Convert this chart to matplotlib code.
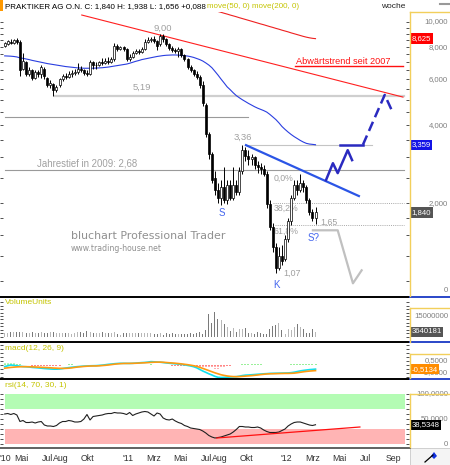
import numpy as np
import pandas as pd
import matplotlib
matplotlib.use('Agg')
import matplotlib.pyplot as plt
import matplotlib.dates as mdates
from matplotlib.lines import Line2D
from matplotlib.patches import Rectangle, Polygon
from matplotlib.ticker import NullLocator
from matplotlib.transforms import blended_transform_factory as blend

plt.rcParams['font.family'] = ['Liberation Sans', 'DejaVu Sans']

# ---------------- data (weekly) ----------------
first_week = '2010-03-24'
open_ = [8.08, 8.25, 8.40, 8.30, 8.50, 8.40, 6.60, 7.00, 6.30, 6.50,
         6.10, 6.40, 6.30, 6.60, 6.10, 5.70, 5.75, 5.45, 5.70, 6.00,
         6.20, 6.15, 6.30, 6.35, 6.40, 6.60, 6.50, 6.35, 6.30, 7.00,
         6.80, 6.85, 7.00, 6.95, 7.10, 7.00, 7.20, 8.10, 7.90, 8.00,
         7.85, 7.20, 7.35, 7.60, 7.70, 7.65, 7.85, 8.40, 8.50, 8.60,
         8.45, 8.20, 8.80, 8.60, 8.20, 7.95, 7.80, 7.70, 7.85, 7.45,
         7.20, 6.70, 6.50, 6.30, 6.15, 5.70, 4.80, 3.70, 3.10, 2.50,
         2.25, 2.10, 2.30, 2.05, 2.35, 2.10, 2.35, 2.20, 2.65, 3.20,
         3.05, 2.95, 3.00, 2.80, 2.75, 2.70, 2.60, 1.98, 1.62, 1.35,
         1.12, 1.25, 1.22, 1.45, 1.70, 2.10, 2.35, 2.25, 2.40, 2.30,
         2.05, 1.85, 1.752]
high = [8.40, 8.55, 8.60, 8.62, 8.65, 8.55, 7.60, 7.05, 6.70, 6.60,
        6.50, 6.55, 6.80, 6.70, 6.15, 5.95, 5.80, 5.70, 6.10, 6.30,
        6.35, 6.45, 6.50, 6.60, 6.95, 6.75, 6.60, 6.50, 7.15, 7.05,
        7.00, 7.10, 7.25, 7.25, 7.30, 7.35, 8.30, 8.20, 8.10, 8.10,
        7.95, 7.50, 7.70, 7.90, 7.85, 8.00, 8.60, 8.75, 8.75, 8.80,
        8.55, 9.00, 8.95, 8.70, 8.30, 8.05, 7.95, 8.00, 7.95, 7.50,
        7.25, 6.85, 6.60, 6.45, 6.25, 5.90, 4.85, 3.75, 3.15, 2.65,
        2.40, 2.45, 2.75, 2.45, 2.45, 2.75, 2.45, 2.75, 3.36, 3.30,
        3.20, 3.10, 3.05, 2.90, 2.85, 2.80, 2.65, 2.05, 1.68, 1.40,
        1.35, 1.38, 1.50, 1.75, 2.15, 2.45, 2.45, 2.58, 2.45, 2.35,
        2.10, 1.90, 1.938]
low = [8.00, 8.15, 8.20, 8.22, 8.25, 6.20, 6.55, 6.20, 6.20, 5.95,
       6.00, 6.15, 6.10, 6.00, 5.60, 5.55, 5.19, 5.35, 5.60, 5.90,
       6.05, 6.10, 6.15, 6.25, 6.30, 6.40, 6.25, 6.20, 6.25, 6.60,
       6.60, 6.75, 6.85, 6.90, 6.90, 6.95, 7.10, 7.75, 7.80, 7.70,
       7.05, 7.10, 7.25, 7.55, 7.55, 7.60, 7.80, 8.30, 8.40, 8.30,
       7.80, 8.10, 8.40, 8.05, 7.80, 7.65, 7.60, 7.30, 7.35, 7.05,
       6.60, 6.40, 6.20, 6.05, 5.55, 4.75, 3.60, 2.95, 2.40, 2.15,
       2.00, 1.97, 2.00, 1.99, 2.05, 2.05, 2.15, 2.15, 2.60, 2.90,
       2.80, 2.80, 2.70, 2.62, 2.60, 2.55, 1.92, 1.58, 1.30, 1.07,
       1.10, 1.15, 1.20, 1.42, 1.65, 2.05, 2.15, 2.20, 2.20, 2.00,
       1.80, 1.70, 1.656]
close_ = [8.30, 8.45, 8.30, 8.50, 8.40, 6.50, 7.10, 6.30, 6.50, 6.10,
          6.40, 6.30, 6.70, 6.20, 5.70, 5.80, 5.45, 5.60, 6.00, 6.20,
          6.15, 6.30, 6.35, 6.40, 6.60, 6.50, 6.35, 6.30, 7.00, 6.80,
          6.85, 7.00, 6.95, 7.10, 7.00, 7.20, 8.10, 7.90, 8.00, 7.85,
          7.20, 7.35, 7.60, 7.70, 7.65, 7.85, 8.40, 8.50, 8.60, 8.45,
          8.10, 8.80, 8.60, 8.20, 7.95, 7.80, 7.70, 7.85, 7.45, 7.20,
          6.70, 6.50, 6.30, 6.15, 5.70, 4.85, 3.70, 3.10, 2.45, 2.25,
          2.10, 2.30, 2.05, 2.35, 2.10, 2.35, 2.20, 2.65, 3.20, 3.05,
          2.95, 3.00, 2.80, 2.75, 2.70, 2.60, 1.98, 1.62, 1.35, 1.12,
          1.25, 1.20, 1.45, 1.70, 2.10, 2.35, 2.25, 2.40, 2.30, 2.05,
          1.85, 1.752, 1.840]
ma50 = [7.40, 7.39, 7.38, 7.36, 7.33, 7.27, 7.24, 7.20, 7.16, 7.11,
        7.07, 7.03, 6.99, 6.95, 6.91, 6.88, 6.85, 6.82, 6.79, 6.76,
        6.73, 6.71, 6.69, 6.67, 6.65, 6.64, 6.63, 6.63, 6.63, 6.63,
        6.64, 6.65, 6.66, 6.68, 6.70, 6.73, 6.76, 6.79, 6.82, 6.85,
        6.88, 6.93, 6.99, 7.05, 7.10, 7.16, 7.20, 7.24, 7.28, 7.32,
        7.36, 7.39, 7.42, 7.44, 7.45, 7.46, 7.46, 7.45, 7.43, 7.41,
        7.39, 7.35, 7.30, 7.23, 7.16, 7.07, 6.95, 6.82, 6.66, 6.45,
        6.24, 6.02, 5.82, 5.62, 5.48, 5.33, 5.20, 5.10, 5.01, 4.93,
        4.85, 4.78, 4.71, 4.65, 4.60, 4.55, 4.49, 4.40, 4.30, 4.20,
        4.08, 3.95, 3.85, 3.76, 3.68, 3.61, 3.55, 3.49, 3.44, 3.40,
        3.38, 3.37, 3.359]
ma200_first_week = 70
ma200 = [10.98, 10.90, 10.81, 10.73, 10.64, 10.56, 10.48, 10.39, 10.31, 10.23,
         10.15, 10.07, 9.99, 9.91, 9.83, 9.76, 9.68, 9.60, 9.53, 9.45,
         9.38, 9.30, 9.23, 9.16, 9.08, 9.01, 8.94, 8.87, 8.80, 8.74,
         8.69, 8.65, 8.625]
volume_mio = [3.0, 3.2, 3.4, 3.6, 3.3, 3.8, 3.5, 3.2, 3.0, 3.3,
              2.8, 3.1, 3.4, 3.2, 2.9, 3.6, 3.4, 3.1, 2.7, 2.5,
              2.9, 3.2, 2.4, 2.8, 3.9, 3.3, 3.1, 4.2, 3.6, 3.2,
              3.0, 2.8, 3.5, 3.1, 2.9, 2.7, 3.3, 2.0, 1.5, 2.6,
              2.8, 3.0, 2.9, 3.2, 2.7, 2.6, 2.9, 2.5, 2.6, 2.1,
              2.1, 2.9, 1.4, 2.9, 2.1, 2.5, 2.1, 2.1, 2.1, 2.1,
              2.1, 2.5, 1.8, 2.9, 3.6, 2.1, 5.0, 16.4, 10.0, 17.9,
              12.9, 12.1, 9.3, 7.1, 4.3, 6.4, 3.6, 5.7, 5.7, 6.4,
              2.9, 2.9, 2.1, 3.6, 2.5, 2.1, 2.1, 5.7, 7.9, 8.6,
              10.0, 5.0, 2.1, 5.7, 5.0, 7.1, 9.3, 7.1, 5.7, 2.9,
              2.9, 5.7, 3.64]
macd = [-0.20, -0.10, 0.00, -0.05, -0.10, -0.15, -0.20, -0.22, -0.25, -0.30,
        -0.33, -0.36, -0.40, -0.44, -0.47, -0.50, -0.52, -0.52, -0.50, -0.45,
        -0.38, -0.33, -0.28, -0.24, -0.20, -0.17, -0.14, -0.12, -0.10, -0.09,
        -0.08, -0.05, -0.02, 0.03, 0.08, 0.12, 0.16, 0.19, 0.21, 0.21,
        0.20, 0.20, 0.21, 0.24, 0.27, 0.30, 0.32, 0.36, 0.42, 0.40,
        0.37, 0.35, 0.31, 0.26, 0.22, 0.18, 0.15, 0.11, 0.07, 0.02,
        -0.05, -0.12, -0.21, -0.35, -0.55, -0.75, -0.92, -1.10, -1.25, -1.42,
        -1.54, -1.56, -1.55, -1.53, -1.50, -1.48, -1.46, -1.40, -1.32, -1.27,
        -1.25, -1.22, -1.19, -1.16, -1.13, -1.10, -1.08, -1.05, -1.04, -1.03,
        -1.02, -1.01, -1.00, -0.99, -0.96, -0.90, -0.82, -0.74, -0.68, -0.63,
        -0.58, -0.55, -0.5134]
signal = [-0.40, -0.35, -0.30, -0.27, -0.24, -0.22, -0.21, -0.21, -0.22, -0.23,
          -0.25, -0.27, -0.29, -0.31, -0.33, -0.35, -0.38, -0.40, -0.42, -0.42,
          -0.42, -0.40, -0.36, -0.30, -0.25, -0.21, -0.18, -0.15, -0.13, -0.12,
          -0.12, -0.10, -0.07, -0.04, 0.00, 0.05, 0.10, 0.14, 0.17, 0.19,
          0.20, 0.20, 0.21, 0.22, 0.24, 0.26, 0.28, 0.30, 0.33, 0.35,
          0.36, 0.36, 0.34, 0.31, 0.28, 0.25, 0.22, 0.18, 0.14, 0.09,
          0.04, -0.02, -0.09, -0.17, -0.29, -0.42, -0.56, -0.70, -0.84, -0.98,
          -1.10, -1.22, -1.30, -1.37, -1.42, -1.45, -1.46, -1.45, -1.42, -1.39,
          -1.36, -1.33, -1.29, -1.25, -1.20, -1.16, -1.12, -1.10, -1.09, -1.08,
          -1.07, -1.06, -1.05, -1.05, -1.04, -1.02, -0.97, -0.91, -0.85, -0.80,
          -0.76, -0.73, -0.70]
rsi = [60, 61, 59, 61, 58, 45, 47, 43, 43, 44,
       42, 44, 45, 38, 36, 36, 35, 37, 42, 45,
       45, 47, 46, 44, 44, 45, 50, 59, 48, 55,
       56, 57, 58, 60, 61, 61, 63, 62, 62, 61,
       59, 63, 57, 60, 62, 64, 65, 64, 60, 56,
       62, 60, 52, 49, 48, 50, 46, 43, 41, 37,
       35, 32, 31, 30, 29, 26, 22, 17, 14, 12,
       13, 14, 16, 18, 20, 24, 29, 35, 35, 34,
       34, 33, 33, 34, 32, 28, 25, 23, 23, 23,
       24, 27, 30, 36, 40, 43, 44, 44, 42, 40,
       38, 37, 38.5348]

# drawn annotations (dates, prices)
trend_red = (['2010-09-17', '2012-09-24'], [10.64, 5.13])
downtrend_mark = (['2012-01-20', '2012-09-24'], [6.76, 6.76])
level_519 = (['2010-07-17', '2012-09-26'], [5.19, 5.19])
level_430 = (['2010-03-24', '2011-10-04'], [4.30, 4.30])
level_268 = (['2010-03-24', '2012-09-26'], [2.68, 2.68])
level_336 = (['2011-09-27', '2012-07-15'], [3.36, 3.36])
fib_382 = (['2011-11-30', '2012-09-26'], [2.003, 2.003])
fib_618 = (['2011-12-05', '2012-09-26'], [1.647, 1.647])
blue_trend = (['2011-09-27', '2012-06-17'], [3.36, 2.12])
bull_zigzag = (['2012-03-31', '2012-04-16', '2012-04-27', '2012-05-20', '2012-05-30'],
               [2.45, 2.85, 2.61, 3.20, 2.93])
bull_flat = (['2012-05-02', '2012-06-24'], [3.36, 3.36])
bull_dash = (['2012-06-24', '2012-08-13', '2012-08-29'], [3.36, 5.23, 4.57])
bear_path = (['2012-03-01', '2012-04-27', '2012-06-01', '2012-06-21'], [1.57, 1.57, 0.98, 1.10])
rsi_trend = (['2011-07-24', '2012-06-17'], [12, 34])

month_ticks = ['2010-03-13', '2010-05-01', '2010-07-01', '2010-08-01', '2010-10-01',
               '2011-01-01', '2011-03-01', '2011-05-01', '2011-07-01', '2011-08-01',
               '2011-10-01', '2012-01-01', '2012-03-01', '2012-05-01', '2012-07-01',
               '2012-09-01']
month_labels = ["'10", 'Mai', 'Jul', 'Aug', 'Okt', "'11", 'Mrz', 'Mai', 'Jul', 'Aug',
                'Okt', "'12", 'Mrz', 'Mai', 'Jul', 'Sep']

# ---------------- figure ----------------
W, H = 450, 465
fig = plt.figure(figsize=(4.5, 4.65), dpi=100)
fig.patch.set_facecolor('white')


def fx(px):
    return px / W


def fy(py):
    return 1 - py / H


def dn(lst):
    return mdates.date2num(pd.to_datetime(lst))


x_left = pd.Timestamp('2010-03-13 05:00')
x_right = pd.Timestamp('2012-10-07 19:00')


def panel(top, bottom):
    ax = fig.add_axes([0, fy(bottom), fx(409), (bottom - top) / H])
    for s in ax.spines.values():
        s.set_visible(False)
    ax.set_facecolor('none')
    ax.tick_params(axis='x', bottom=False, labelbottom=False)
    ax.tick_params(axis='y', which='both', direction='in', left=True, right=True,
                   length=2.5, width=0.6, labelleft=False, labelright=False,
                   color='#333333')
    ax.set_xlim(mdates.date2num(x_left), mdates.date2num(x_right))
    return ax


dates = pd.date_range(first_week, periods=len(close_), freq='7D')
x = mdates.date2num(dates)
o = np.array(open_)
c = np.array(close_)
h = np.array(high)
lo = np.array(low)
up = c >= o

GRAY_TXT = '#a0a0a0'
AX_TXT = '#808080'
OLIVE = '#c4c400'
FS_AX = 5.6

# ---------- price panel ----------
ax_p = panel(12, 296)
ax_p.set_yscale('log')
ax_p.set_ylim(0.8755, 10.93)
ax_p.yaxis.set_major_locator(matplotlib.ticker.FixedLocator(
    [1, 1.25, 1.5, 1.75, 2, 2.5, 3, 3.5, 4, 4.5, 5, 5.5, 6, 6.5, 7, 7.5, 8, 8.5, 9, 9.5, 10]))
ax_p.yaxis.set_minor_locator(NullLocator())
ax_p.set_xlim(mdates.date2num(x_left), mdates.date2num(x_right))


def pline(ax, item, **kw):
    ax.plot(dn(item[0]), item[1], **kw)


pline(ax_p, level_430, color='#9a9a9a', lw=0.8, zorder=1)
pline(ax_p, level_268, color='#9a9a9a', lw=0.8, zorder=1)
pline(ax_p, level_519, color='#cfcfcf', lw=1.6, zorder=1)
pline(ax_p, level_336, color='#c4c4c4', lw=0.8, zorder=1)
pline(ax_p, fib_382, color='#a8a8a8', lw=0.7, ls=(0, (1, 1.2)), zorder=1)
pline(ax_p, fib_618, color='#a8a8a8', lw=0.7, ls=(0, (1, 1.2)), zorder=1)

ax_p.plot(x, ma50, color='#2a3ee0', lw=0.8, zorder=2)
ax_p.plot(x[ma200_first_week:ma200_first_week + len(ma200)], ma200, color='#ee2020', lw=0.8, zorder=2)
pline(ax_p, trend_red, color='#ff2020', lw=0.8, zorder=2)
pline(ax_p, downtrend_mark, color='#ff1010', lw=1.0, zorder=2)

# candles
ax_p.vlines(x, lo, h, color='black', lw=0.7, zorder=3)
ax_p.bar(x, np.maximum(np.abs(c - o), 0.005), bottom=np.minimum(o, c), width=4.6,
         color=np.where(up, 'white', 'black'), edgecolor='black', linewidth=0.5, zorder=4)

pline(ax_p, blue_trend, color='#2b55e6', lw=1.6, zorder=5, solid_capstyle='butt')
pline(ax_p, bull_zigzag, color='#2a2ac0', lw=1.8, zorder=5)
pline(ax_p, bull_flat, color='#2a2ac0', lw=1.8, zorder=5)
pline(ax_p, bull_dash, color='#2a2ac0', lw=1.8, ls=(0, (4, 2)), zorder=5)
pline(ax_p, bear_path, color='#c0c0c0', lw=1.6, zorder=5)

ft = fig.transFigure


def ptext(px, py, s, **kw):
    kw.setdefault('va', 'center')
    ax_p.text(fx(px), fy(py), s, transform=ft, zorder=1, **kw)


ptext(163, 28, '9,00', color=GRAY_TXT, fontsize=6.8, ha='center')
ptext(142, 87, '5,19', color=GRAY_TXT, fontsize=6.8, ha='center')
ptext(243, 137, '3,36', color=GRAY_TXT, fontsize=6.8, ha='center')
ptext(37, 164, 'Jahrestief in 2009: 2,68', color=GRAY_TXT, fontsize=6.9, ha='left')
ptext(274, 178, '0,0%', color=GRAY_TXT, fontsize=6.3, ha='left')
ptext(274, 208, '38,2%', color=GRAY_TXT, fontsize=6.3, ha='left')
ptext(274, 231, '61,8%', color=GRAY_TXT, fontsize=6.3, ha='left')
ptext(320, 222, '1,65', color=GRAY_TXT, fontsize=6.3, ha='left')
ptext(283, 273, '1,07', color=GRAY_TXT, fontsize=6.5, ha='left')
ptext(222, 213, 'S', color='#4466ee', fontsize=7, ha='center')
ptext(277, 285, 'K', color='#4466ee', fontsize=7, ha='center')
ptext(314, 238, 'S?', color='#4466ee', fontsize=7, ha='center')
ptext(296, 61, 'Abwärtstrend seit 2007', color='#ff1010', fontsize=6.6, ha='left')
ptext(71, 236, 'bluchart Professional Trader', color='#909090', fontsize=7.9, ha='left',
      family='DejaVu Sans')
ptext(71, 248, 'www.trading-house.net', color='#909090', fontsize=5.6, ha='left',
      family='DejaVu Sans')


def right_label(ax, val, s):
    ax.text(fx(448), val, s, transform=blend(ft, ax.transData), ha='right', va='center',
            color=AX_TXT, fontsize=FS_AX, zorder=6, clip_on=False)


def right_box(ax, val, s, fc):
    ax.text(fx(411.5), val, s, transform=blend(ft, ax.transData), ha='left', va='center',
            color='white', fontsize=FS_AX, zorder=7, clip_on=False,
            bbox=dict(boxstyle='square,pad=0.22', fc=fc, ec='none'))


for v, s in [(10, '10,000'), (8, '8,000'), (6, '6,000'), (4, '4,000'), (2, '2,000'), (0.923, '0')]:
    right_label(ax_p, v, s)
right_box(ax_p, ma200[-1], '8,625', '#ff0000')
right_box(ax_p, ma50[-1], '3,359', '#1414e6')
right_box(ax_p, close_[-1], '1,840', '#555555')

# ---------- volume panel ----------
ax_v = panel(298, 341)
ax_v.set_ylim(-2.86, 27.86)
ax_v.set_yticks(np.arange(0, 27, 2.5))
ax_v.bar(x, volume_mio, width=2.3, color=np.where(up, '#b8b8b8', '#7a7a7a'), zorder=3)
right_label(ax_v, 15, '15000000')
right_box(ax_v, volume_mio[-1], '3640181', '#555555')

# ---------- MACD panel ----------
ax_m = panel(344, 378)
ax_m.set_ylim(-1.625, 2.625)
ax_m.set_yticks(np.arange(-1.5, 2.6, 0.5))
hist = np.array(macd) - np.array(signal)
ax_m.vlines(x, 0, hist, colors=np.where(hist >= 0, '#88ee88', '#ff7070'), lw=1.2,
            linestyles=(0, (1, 1)), zorder=2)
ax_m.plot(x, macd, color='#10e0f0', lw=1.2, zorder=3)
ax_m.plot(x, signal, color='#ff9a10', lw=1.2, zorder=4)
right_label(ax_m, 0.5, '0,5000')
right_label(ax_m, -1.0, '-1,0000')
right_box(ax_m, macd[-1], '-0,5134', '#ff8c00')

# ---------- RSI panel ----------
ax_r = panel(380, 446)
ax_r.set_ylim(-4, 128)
ax_r.set_yticks(np.arange(0, 101, 10))
ax_r.axhspan(70, 100, xmin=5 / 409, xmax=405 / 409, color='#b4fcb4', lw=0, zorder=0)
ax_r.axhspan(0, 30, xmin=5 / 409, xmax=405 / 409, color='#ffb4b4', lw=0, zorder=0)
ax_r.plot(x, rsi, color='#202020', lw=0.8, zorder=3)
pline(ax_r, rsi_trend, color='#ff1010', lw=0.9, zorder=4)
right_label(ax_r, 100, '100,0000')
right_label(ax_r, 50, '50,0000')
right_label(ax_r, 0, '0')
right_box(ax_r, rsi[-1], '38,5348', '#000000')

# date labels (first one sits at the left edge)
for k, (d, s) in enumerate(zip(dn(month_ticks), month_labels)):
    ax_r.text(d, fy(458), s, transform=blend(ax_r.transData, ft),
              ha='left' if k == 0 else 'center', va='center',
              fontsize=6.3, color='#333333', clip_on=False)

# panel titles / header
fig.text(fx(5), fy(303), 'VolumeUnits', color=OLIVE, fontsize=6, va='center')
fig.text(fx(5), fy(349), 'macd(12, 26, 9)', color=OLIVE, fontsize=6, va='center')
fig.text(fx(5), fy(385), 'rsi(14, 70, 30, 1)', color=OLIVE, fontsize=6, va='center')
fig.text(fx(5), fy(6.5), 'PRAKTIKER AG O.N. C: 1,840 H: 1,938 L: 1,656 +0,088',
         color='black', fontsize=5.8, va='center')
fig.text(fx(207), fy(6.5), 'move(50, 0) move(200, 0)', color=OLIVE, fontsize=5.8, va='center')
fig.text(fx(393), fy(6.5), 'woche', color='#222222', fontsize=6, va='center', ha='center')
fig.add_artist(Rectangle((0, fy(11)), fx(2.5), 11 / H, transform=ft, color='#ff9900', lw=0))
fig.add_artist(Line2D([fx(440), fx(450)], [fy(4.5)] * 2, color='#999999', lw=1.5))

# separators and right-axis frames
for yy in (296.5, 342.2, 378.6):
    fig.add_artist(Line2D([0, fx(409.5)], [fy(yy)] * 2, color='black', lw=1.4))
    fig.add_artist(Line2D([fx(409.5), 1], [fy(yy)] * 2, color='#2a46c8', lw=1.4))
fig.add_artist(Line2D([0, fx(409.5)], [fy(447.8)] * 2, color='#555555', lw=1.3))
YEL = '#f2cf5b'
for top, bot in ((12.5, 296), (308, 341.5), (354, 378), (394, 447)):
    fig.add_artist(Line2D([fx(409.5)] * 2, [fy(top), fy(bot)], color=YEL, lw=1.0))
    fig.add_artist(Line2D([fx(409.5), 1], [fy(top)] * 2, color=YEL, lw=1.0))

# small icon box bottom right
fig.add_artist(Rectangle((fx(410), 0), fx(40), 17 / H, transform=ft, fc='#f4f4f4',
                         ec='#c8c8c8', lw=0.6))
fig.add_artist(Line2D([fx(425), fx(433)], [fy(462), fy(455)], color='black', lw=0.9))
fig.add_artist(Polygon([[fx(431), fy(456)], [fx(434), fy(452)], [fx(437), fy(456)],
                        [fx(434), fy(459)]], closed=True, transform=ft, fc='#1030e0', ec='none'))

fig.savefig('out.png', dpi=100, facecolor='white')
